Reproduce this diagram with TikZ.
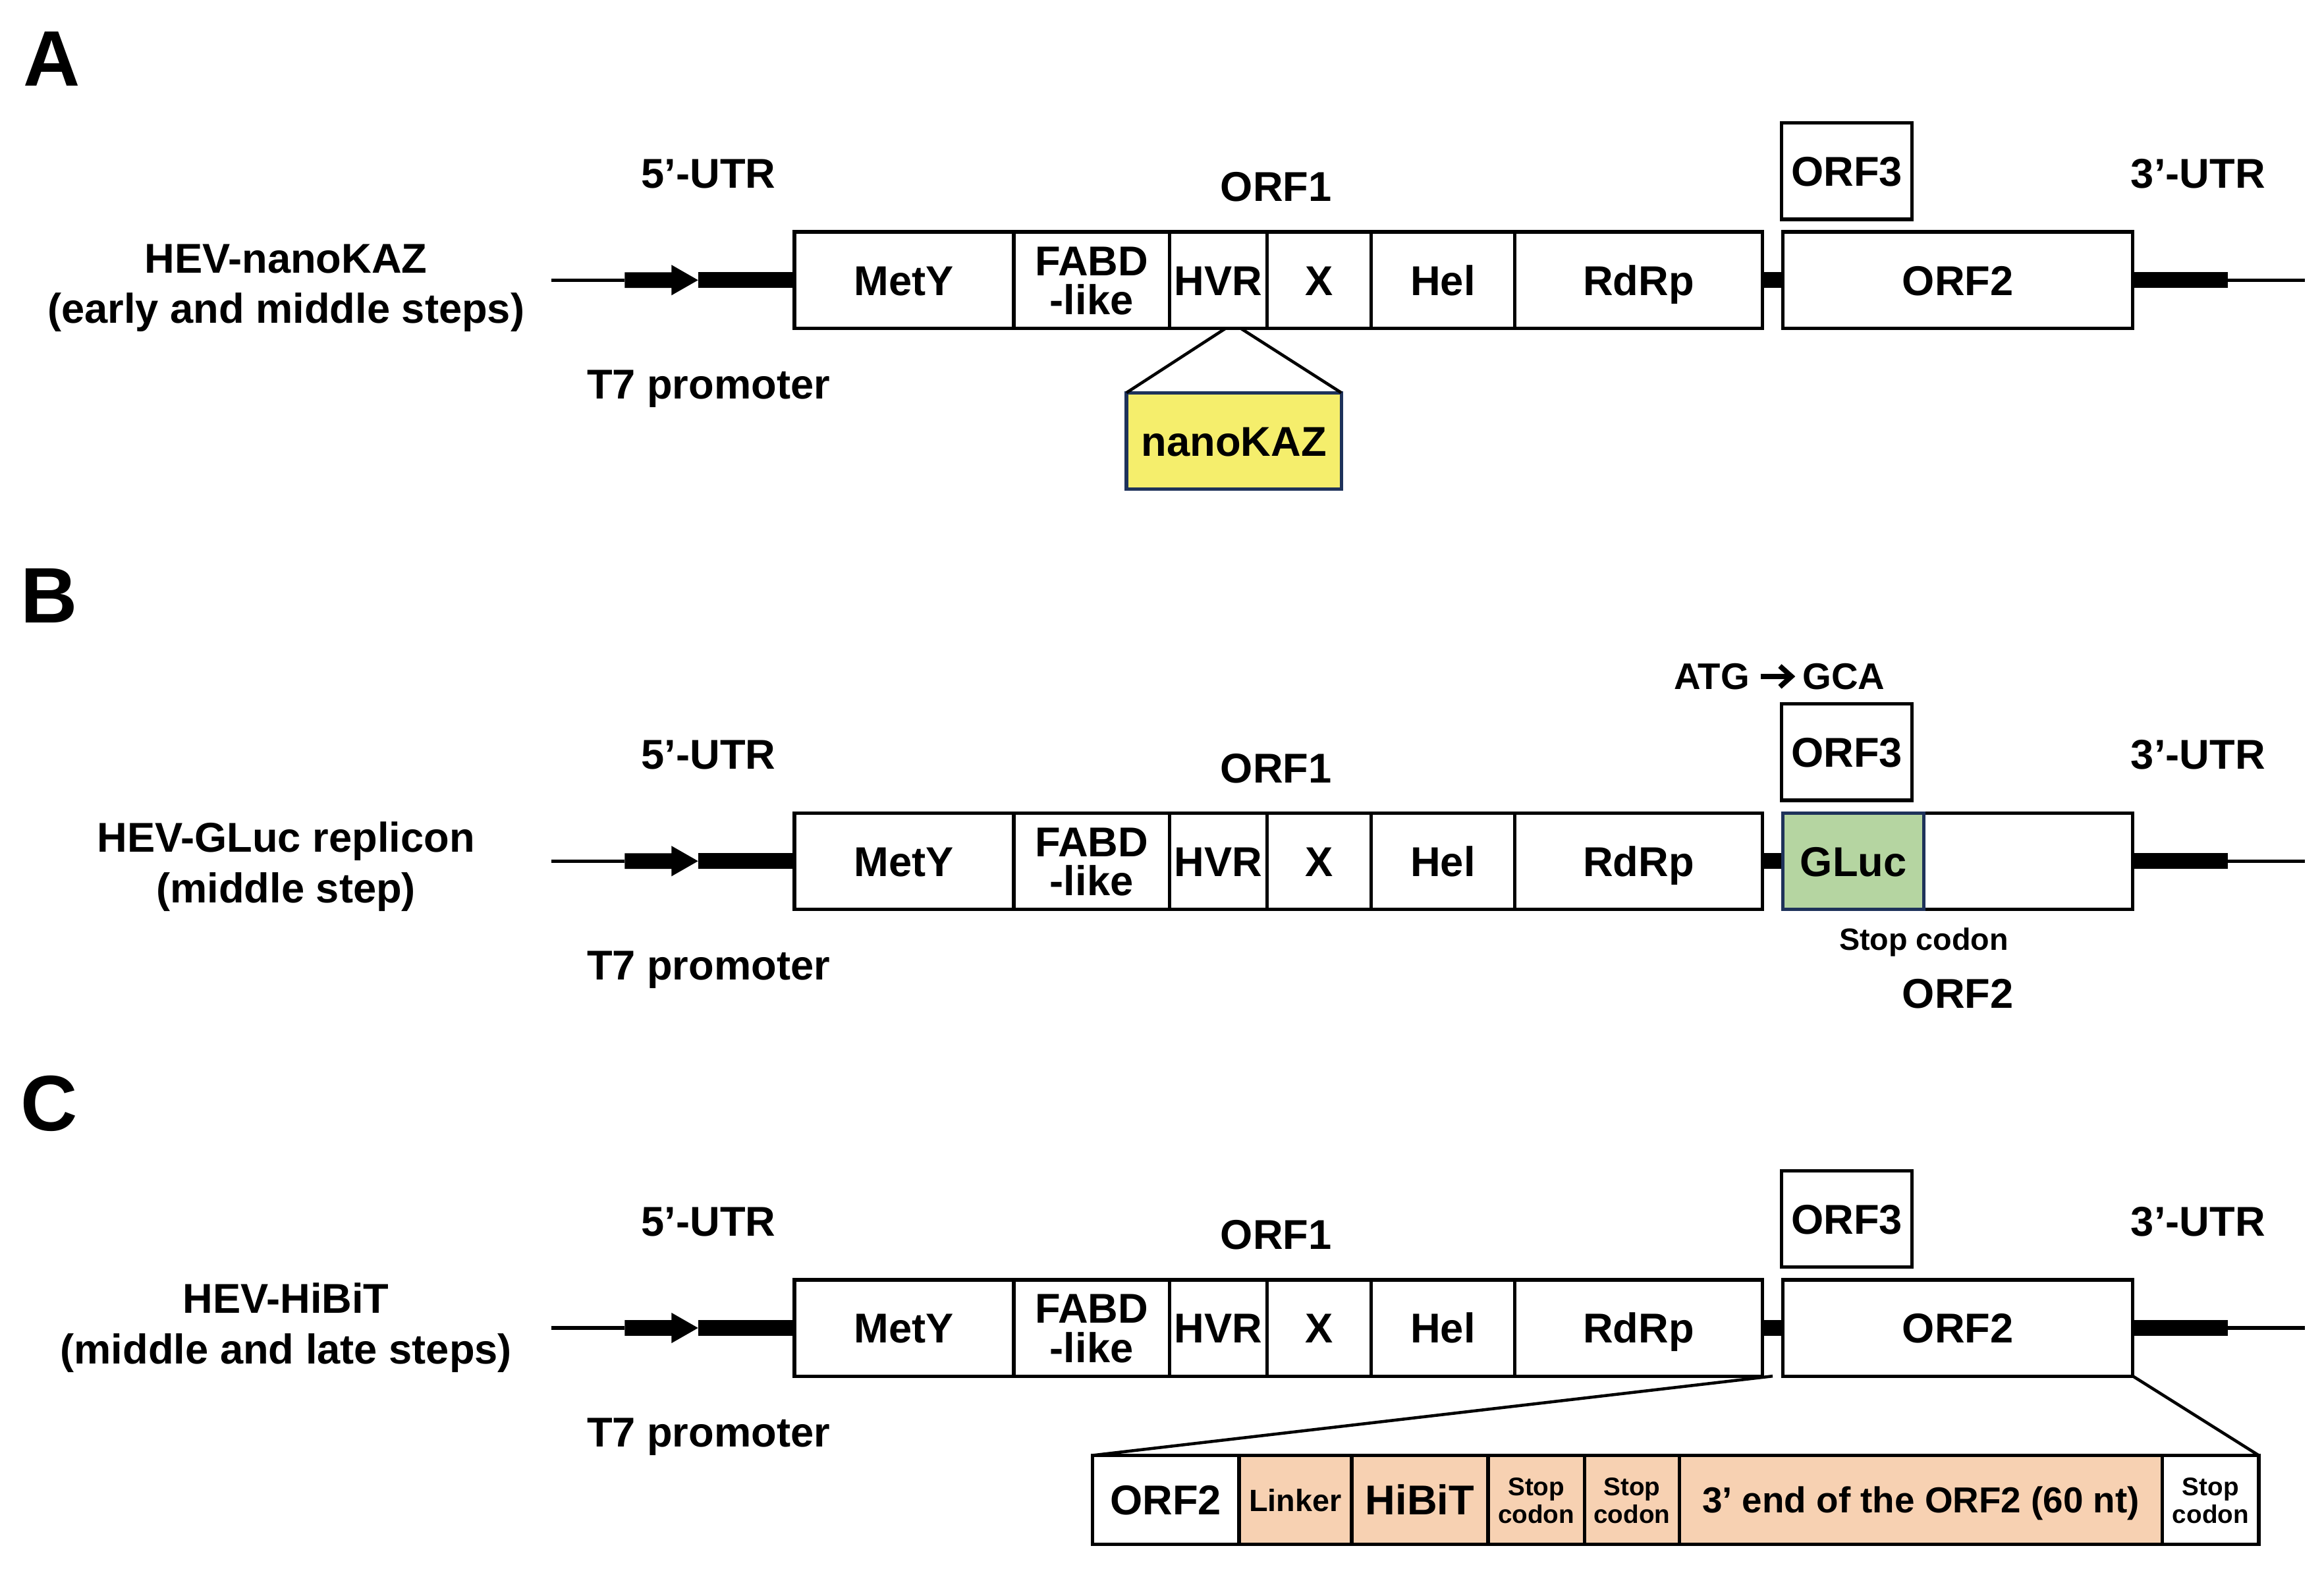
\documentclass[tikz,border=0pt]{standalone}
\usepackage{fontspec}
\setmainfont{Liberation Sans}
\usetikzlibrary{arrows.meta}
\definecolor{nkyellow}{RGB}{245,238,108}
\definecolor{navy}{RGB}{30,50,90}
\definecolor{glgreen}{RGB}{181,213,161}
\definecolor{peach}{RGB}{247,209,178}
\newcommand\U{0.0225cm}
\tikzset{
  segbox/.style={draw, line width=1.5pt, fill=white, inner sep=0pt, outer sep=0pt,
    align=center, text height=13pt, text depth=0pt,
    font=\fontsize{18}{17}\selectfont\bfseries},
  lbl/.style={inner sep=0pt, anchor=base, font=\fontsize{18}{20}\selectfont\bfseries},
  panel/.style={inner sep=0pt, anchor=base, font=\fontsize{34}{36}\selectfont\bfseries},
  thickdna/.style={line width=6.8pt},
  thindna/.style={line width=1.5pt},
  zoomline/.style={line width=1.3pt},
  atgarrow/.style={line width=2.2pt, -{Straight Barb[length=5pt,width=9pt]}, shorten <=4.5pt, shorten >=3pt},
}
% \seg[opts]{name}{x1}{x2}{ytop}{ybot}{text}
\newcommand\seg[7][]{\node[segbox,minimum width={(#4-#3)*\U},minimum height={(#6-#5)*\U},#1] (#2) at ({(#3+#4)/2},{(#5+#6)/2}) {#7};}
% \genome{prefix}{ycenter}{orf2 text}
\newcommand\genome[3]{%
  \pgfmathsetmacro\yt{#2-32.5}\pgfmathsetmacro\yb{#2+32.5}%
  \pgfmathsetmacro\ot{#2-106}\pgfmathsetmacro\ob{#2-41}%
  \coordinate (#1s) at (372,#2);
  \coordinate (#1a) at (421.5,#2);
  \coordinate (#1tip) at (471,#2);
  \coordinate (#1r) at (1503,#2);
  \coordinate (#1e) at (1555,#2);
  \seg{#1mety}{536}{684}{\yt}{\yb}{MetY}
  \seg[text height=30pt]{#1fabd}{684}{789}{\yt}{\yb}{FABD\\-like}
  \seg{#1hvr}{789}{855}{\yt}{\yb}{HVR}
  \seg{#1x}{855}{925}{\yt}{\yb}{X}
  \seg{#1hel}{925}{1022}{\yt}{\yb}{Hel}
  \seg{#1rdrp}{1022}{1189}{\yt}{\yb}{RdRp}
  \seg{#1orf}{1203}{1439}{\yt}{\yb}{#3}
  \seg{#1orf3}{1202}{1290}{\ot}{\ob}{ORF3}
  \draw[thindna] (#1s) -- (#1a);
  \fill (421.5,{#2-5.3}) -- (453,{#2-5.3}) -- (453,{#2-10.3}) -- (#1tip) -- (453,{#2+10.3}) -- (453,{#2+5.3}) -- (421.5,{#2+5.3}) -- cycle;
  \draw[thickdna] (#1tip) -- (#1mety.west);
  \draw[thickdna] (#1rdrp.east) -- (#1orf.west);
  \draw[thickdna] (#1orf.east) -- (#1r);
  \draw[thindna] (#1r) -- (#1e);
  \node[lbl] (#1utr5) at (478,{#2-62}) {5’-UTR};
  \node[lbl] (#1orf1) at (861,{#2-53}) {ORF1};
  \node[lbl] (#1utr3) at (1483,{#2-62}) {3’-UTR};
  \node[lbl] (#1t7) at (478,{#2+80}) {T7 promoter};
}
\begin{document}
\begin{tikzpicture}[x=0.0225cm,y=-0.0225cm]
\useasboundingbox[fill=white] (0,0) rectangle (1568,1060);

% ---------------- Panel A
\node[panel] (pA) at (35,58) {A};
\genome{a}{189}{ORF2}
\node[lbl] (aname1) at (193,184) {HEV-nanoKAZ};
\node[lbl] (aname2) at (193,218) {(early and middle steps)};
\seg[fill=nkyellow, draw=navy]{ank}{760}{905}{265}{330}{nanoKAZ}
\coordinate (ak1) at (827,221.5);
\coordinate (ak2) at (837,221.5);
\draw[zoomline] (ak1) -- (ank.north west);
\draw[zoomline] (ak2) -- (ank.north east);

% ---------------- Panel B
\node[panel] (pB) at (33,420) {B};
\genome{b}{581}{}
\node[lbl] (bname1) at (193,575) {HEV-GLuc replicon};
\node[lbl] (bname2) at (193,609) {(middle step)};
\seg[fill=glgreen, draw=navy]{bgluc}{1203}{1298}{548.5}{613.5}{GLuc}
\node[lbl, font=\fontsize{16}{18}\selectfont\bfseries] (batg) at (1155,465) {ATG};
\node[lbl, font=\fontsize{16}{18}\selectfont\bfseries] (bgca) at (1244,465) {GCA};
\draw[atgarrow] (batg.east) -- (bgca.west);
\node[lbl, font=\fontsize{13.3}{15}\selectfont\bfseries] (bstop) at (1298,641) {Stop codon};
\node[lbl] (borf2) at (1321,680) {ORF2};

% ---------------- Panel C
\node[panel] (pC) at (33,763) {C};
\genome{c}{896}{ORF2}
\node[lbl] (cname1) at (193,886) {HEV-HiBiT};
\node[lbl] (cname2) at (193,920) {(middle and late steps)};
\tikzset{stopf/.style={font=\fontsize{11}{12}\selectfont\bfseries, text height=20pt}}
\seg{cb1}{737}{836}{982}{1042}{ORF2}
\seg[fill=peach, font=\fontsize{13.3}{15}\selectfont\bfseries, text height=10pt]{cb2}{836}{912}{982}{1042}{Linker}
\seg[fill=peach]{cb3}{912}{1004}{982}{1042}{HiBiT}
\seg[fill=peach, stopf]{cb4}{1004}{1069}{982}{1042}{Stop\\codon}
\seg[fill=peach, stopf]{cb5}{1069}{1133}{982}{1042}{Stop\\codon}
\seg[fill=peach, font=\fontsize{15.6}{17}\selectfont\bfseries, text height=11.2pt]{cb6}{1133}{1459}{982}{1042}{3’ end of the ORF2 (60 nt)}
\seg[stopf]{cb7}{1459}{1524}{982}{1042}{Stop\\codon}
\coordinate (cgap) at (1196,928.5);
\draw[zoomline] (cgap) -- (cb1.north west);
\draw[zoomline] (corf.south east) -- (cb7.north east);
\end{tikzpicture}
\end{document}
